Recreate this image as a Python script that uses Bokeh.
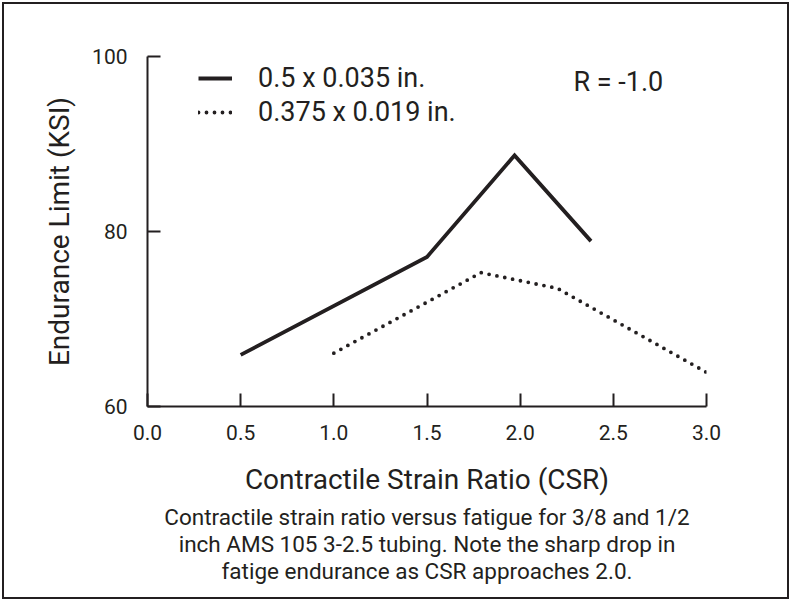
from bokeh.plotting import figure
from bokeh.models import Range1d, FixedTicker, Legend, LegendItem, Label, Title
from bokeh.embed import file_html
from bokeh.resources import INLINE

# ---- data ----
csr_large = [0.5, 1.5, 1.97, 2.38]
ksi_large = [65.9, 77.1, 88.7, 78.9]
csr_small = [1.0, 1.79, 2.2, 3.0]
ksi_small = [66.1, 75.3, 73.5, 63.9]
series_names = ["0.5 x 0.035 in.", "0.375 x 0.019 in."]
x_ticks = [0.0, 0.5, 1.0, 1.5, 2.0, 2.5, 3.0]
x_tick_labels = ["0.0", "0.5", "1.0", "1.5", "2.0", "2.5", "3.0"]
y_ticks = [60, 80, 100]
y_tick_labels = ["60", "80", "100"]
r_note = "R = -1.0"
caption_lines = [
    "Contractile strain ratio versus fatigue for 3/8 and 1/2",
    "inch AMS 105 3-2.5 tubing. Note the sharp drop in",
    "fatige endurance as CSR approaches 2.0.",
]

INK = "#231f20"
FONT = "Roboto"

p = figure(width=783, height=593, output_backend="svg", toolbar_location=None,
           x_range=Range1d(0, 3), y_range=Range1d(60, 100),
           min_border_left=143, min_border_right=85,
           min_border_top=52, min_border_bottom=195)
p.styles = {"border": "2px solid " + INK, "box-sizing": "content-box",
            "margin-left": "2px", "margin-top": "2px"}
p.grid.visible = False
p.outline_line_color = None
p.background_fill_color = "white"
p.border_fill_color = "white"

for ax in (p.xaxis[0], p.yaxis[0]):
    ax.axis_line_color = INK
    ax.axis_line_width = 2
    ax.major_tick_line_color = INK
    ax.major_tick_line_width = 2
    ax.major_tick_in = 13
    ax.major_tick_out = 0
    ax.minor_tick_line_color = None
    ax.major_label_text_font = FONT
    ax.major_label_text_font_size = "21px"
    ax.major_label_text_color = INK
    ax.axis_label_text_font = FONT
    ax.axis_label_text_font_size = "28px"
    ax.axis_label_text_font_style = "normal"
    ax.axis_label_text_color = INK

p.xaxis.ticker = FixedTicker(ticks=x_ticks)
p.xaxis.major_label_overrides = dict(zip(x_ticks, x_tick_labels))
p.xaxis.major_label_standoff = 18
p.xaxis.axis_label = "Contractile Strain Ratio (CSR)"
p.xaxis.axis_label_standoff = 20

p.yaxis.ticker = FixedTicker(ticks=y_ticks)
p.yaxis.major_label_overrides = dict(zip(y_ticks, y_tick_labels))
p.yaxis.major_label_standoff = 20
p.yaxis.axis_label = "Endurance Limit (KSI)"
p.yaxis.axis_label_standoff = 13

r1 = p.line(csr_large, ksi_large, line_color=INK, line_width=3.8, line_join="miter")
r2 = p.line(csr_small, ksi_small, line_color=INK, line_width=3.8,
            line_dash="0 8", line_cap="round")

legend = Legend(items=[LegendItem(label=series_names[0], renderers=[r1]),
                       LegendItem(label=series_names[1], renderers=[r2])],
                location=(51, 277), orientation="vertical",
                glyph_width=34, glyph_height=34, label_height=34,
                label_standoff=26, spacing=0, padding=0, margin=0,
                border_line_color=None, background_fill_alpha=0,
                label_text_font=FONT, label_text_font_size="27px",
                label_text_color=INK)
p.add_layout(legend)

p.add_layout(Label(x=426, y=325, x_units="screen", y_units="screen", text=r_note,
                   text_font=FONT, text_font_size="27px", text_color=INK,
                   text_baseline="middle", text_align="left"))

cap_standoff = [7.5, -10.5, 7.5]
for txt, so in zip(caption_lines, cap_standoff):
    p.add_layout(Title(text=txt, align="center", vertical_align="middle",
                       standoff=so, text_font=FONT, text_font_size="22.5px",
                       text_font_style="normal", text_color=INK), "below")

open("out.html", "w").write(file_html(p, INLINE))
